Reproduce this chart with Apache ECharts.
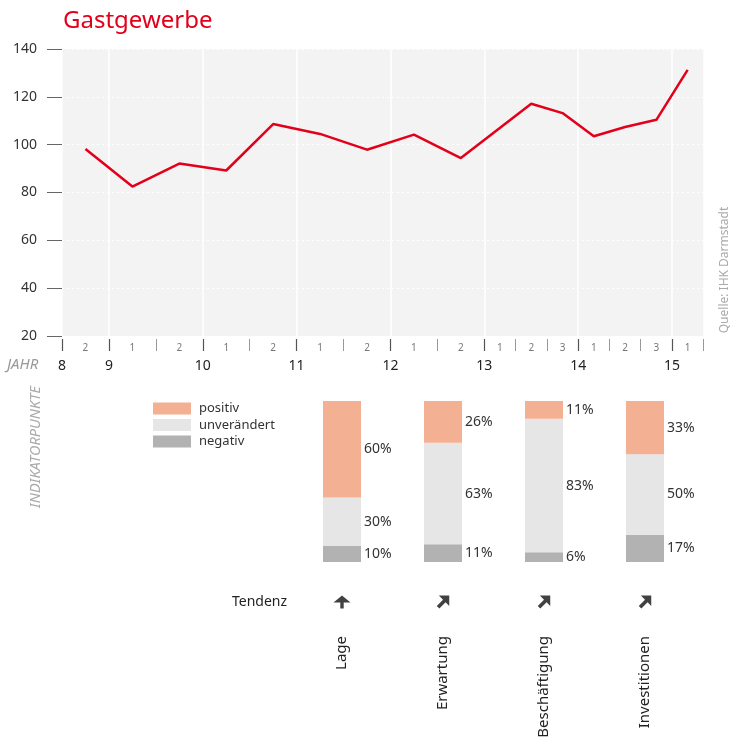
<!DOCTYPE html>
<html>
<head>
<meta charset="utf-8">
<script src="https://cdn.jsdelivr.net/npm/echarts@6/dist/echarts.min.js"></script>
<style>
html,body{margin:0;padding:0;background:#fff;}
#chart{width:731px;height:746px;}
</style>
</head>
<body>
<div id="chart"></div>
<script>
// ---- data ----
const chartTitle = 'Gastgewerbe';
const periodStarts = [2008.5, 2009, 2009.5, 2010, 2010.5, 2011, 2011.5, 2012, 2012.5, 2013, 2013.3333, 2013.6667, 2014, 2014.3333, 2014.6667, 2015];
const periodEnds   = [2009, 2009.5, 2010, 2010.5, 2011, 2011.5, 2012, 2012.5, 2013, 2013.3333, 2013.6667, 2014, 2014.3333, 2014.6667, 2015, 2015.3333];
const periodLabels = ['2','1','2','1','2','1','2','1','2','1','2','3','1','2','3','1'];
const indexValues  = [98.2, 82.5, 92.1, 89.2, 108.6, 104.5, 97.9, 104.2, 94.4, null, 117.1, 113.2, 103.5, 107.4, 110.4, 131.3];
const yearTicks  = [2008.5, 2009, 2010, 2011, 2012, 2013, 2014, 2015];
const yearLabels = ['8', '9', '10', '11', '12', '13', '14', '15'];
const yTickMin = 20, yTickMax = 140, yTickStep = 20;

const categories   = ['Lage', 'Erwartung', 'Beschäftigung', 'Investitionen'];
const positiv      = [60, 26, 11, 33];
const unveraendert = [30, 63, 83, 50];
const negativ      = [10, 11, 6, 17];
const tendenz      = ['up', 'ne', 'ne', 'ne'];

// ---- derived ----
const periodMids = periodStarts.map((s, i) => (s + periodEnds[i]) / 2);
const allBounds = periodStarts.concat([periodEnds[periodEnds.length - 1]]);
const lineData = periodMids.map((m, i) => [m, indexValues[i]]);
function nearestIdx(arr, v) {
  let best = 0, bd = Infinity;
  arr.forEach((a, i) => { const d = Math.abs(a - v); if (d < bd) { bd = d; best = i; } });
  return best;
}
const arrowPaths = {
  up: 'path://M7.5,0 L15,7 L9,7 L9,13 L6,13 L6,7 L0,7 Z',
  ne: 'path://M12,0 L12,10 L8.5,6.5 L2.5,12.5 L0,10 L6,4 L2,0 Z'
};
const arrowSizes = { up: [17, 15], ne: [13, 13] };

const FONT = 'Noto Sans';
const xMin = periodStarts[0], xMax = periodEnds[periodEnds.length - 1];

const chart = echarts.init(document.getElementById('chart'), null, { renderer: 'canvas' });
const barLabel = { show: true, position: 'right', distance: 3, formatter: '{c}%', fontSize: 14, color: '#333' };
const option = {
  animation: false,
  textStyle: { fontFamily: FONT },
  title: {
    text: chartTitle, left: 58, top: 4,
    textStyle: { color: '#e2001a', fontSize: 24, fontWeight: 'normal', fontFamily: FONT }
  },
  legend: {
    data: ['positiv', 'unverändert', 'negativ'],
    orient: 'vertical', left: 148, top: 397,
    itemWidth: 38, itemHeight: 12, itemGap: 3.5, icon: 'rect',
    textStyle: { fontSize: 13, color: '#333', lineHeight: 12, padding: [0, 0, 0, 3] },
    selectedMode: false
  },
  grid: [
    { left: 62, right: 27.7, top: 49, height: 287, show: true, backgroundColor: '#f3f3f3', borderWidth: 0 },
    { left: 291.5, right: 35.5, top: 401, height: 161 },
    { left: 291.5, right: 35.5, top: 590, height: 24 }
  ],
  xAxis: [
    { // periods
      type: 'value', gridIndex: 0, min: xMin, max: xMax, position: 'bottom', offset: 3,
      axisLine: { show: false },
      axisTick: { show: true, customValues: allBounds, length: 12, lineStyle: { color: '#999', width: 1 } },
      axisLabel: {
        customValues: periodMids, margin: 4, fontSize: 10, color: '#777',
        formatter: v => periodLabels[nearestIdx(periodMids, v)]
      },
      splitLine: { show: false }
    },
    { // years
      type: 'value', gridIndex: 0, min: xMin, max: xMax, position: 'bottom', offset: 15,
      axisLine: { show: false },
      axisTick: { show: true, inside: true, customValues: yearTicks, length: 12, lineStyle: { color: '#555', width: 1.2 } },
      axisLabel: {
        customValues: yearTicks, margin: 8, fontSize: 14, color: '#222',
        formatter: v => yearLabels[nearestIdx(yearTicks, v)]
      },
      splitLine: { show: true, lineStyle: { color: '#ffffff', width: 1.5, type: 'solid' } }
    },
    {
      type: 'category', gridIndex: 1, data: categories,
      axisLine: { show: false }, axisTick: { show: false },
      axisLabel: { rotate: 90, margin: 74, fontSize: 15, color: '#222', fontFamily: FONT }
    },
    {
      type: 'category', gridIndex: 2, data: categories, show: false
    }
  ],
  yAxis: [
    {
      type: 'value', gridIndex: 0, min: yTickMin, max: yTickMax, interval: yTickStep,
      axisLine: { show: false },
      axisTick: { show: true, length: 15, lineStyle: { color: '#666', width: 1 } },
      axisLabel: { margin: 25, fontSize: 14, color: '#333' },
      splitLine: { show: true, lineStyle: { color: '#ffffff', width: 1, type: [2, 3] } }
    },
    { type: 'value', gridIndex: 1, min: 0, max: 100, show: false },
    { type: 'value', gridIndex: 2, min: -1, max: 1, show: false }
  ],
  graphic: [
    { type: 'text', left: 7, top: 357, style: { text: 'JAHR', fontSize: 15, fontStyle: 'italic', fill: '#999', fontFamily: FONT } },
    { type: 'text', x: 36, y: 447, rotation: Math.PI / 2,
      style: { text: 'INDIKATORPUNKTE', fontSize: 14.5, fontStyle: 'italic', fill: '#aaa', fontFamily: FONT, align: 'center', verticalAlign: 'middle' } },
    { type: 'text', x: 725, y: 270, rotation: Math.PI / 2,
      style: { text: 'Quelle: IHK Darmstadt', fontSize: 12, fill: '#aaa', fontFamily: FONT, align: 'center', verticalAlign: 'middle' } },
    { type: 'text', x: 232, y: 602,
      style: { text: 'Tendenz', fontSize: 14, fill: '#222', fontFamily: FONT, align: 'left', verticalAlign: 'middle' } }
  ],
  series: [
    {
      type: 'line', xAxisIndex: 0, yAxisIndex: 0, data: lineData, connectNulls: true,
      showSymbol: false, symbol: 'none',
      lineStyle: { color: '#e2001a', width: 2.5 }
    },
    {
      name: 'negativ', type: 'bar', xAxisIndex: 2, yAxisIndex: 1, stack: 'a', data: negativ, barWidth: 38,
      itemStyle: { color: '#b2b2b3' }, label: barLabel
    },
    {
      name: 'unverändert', type: 'bar', xAxisIndex: 2, yAxisIndex: 1, stack: 'a', data: unveraendert, barWidth: 38,
      itemStyle: { color: '#e6e6e6' }, label: barLabel
    },
    {
      name: 'positiv', type: 'bar', xAxisIndex: 2, yAxisIndex: 1, stack: 'a', data: positiv, barWidth: 38,
      itemStyle: { color: '#f4b092' }, label: barLabel
    },
    {
      type: 'scatter', xAxisIndex: 3, yAxisIndex: 2,
      data: tendenz.map((t, i) => ({
        value: [i, 0],
        symbol: arrowPaths[t], symbolSize: arrowSizes[t], symbolKeepAspect: true
      })),
      itemStyle: { color: '#111111' }, silent: true
    }
  ]
};
chart.setOption(option);
</script>
</body>
</html>
